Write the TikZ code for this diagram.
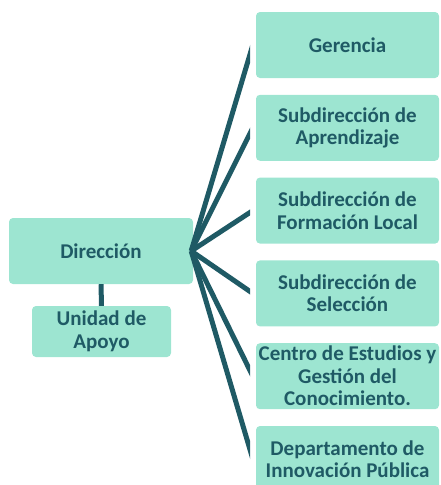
\documentclass[tikz,border=0pt]{standalone}
\usepackage{fontspec}
\setmainfont{Carlito}
\definecolor{boxfill}{HTML}{9DE5D1}
\definecolor{ink}{HTML}{1F5A65}
\begin{document}
\begin{tikzpicture}[x=1pt,y=-1pt,
  orgbox/.style={draw=none,fill=boxfill,rounded corners=4pt,inner sep=0pt,
    align=center,text=ink,font=\fontsize{21}{22.5}\selectfont\bfseries},
  rbox/.style={orgbox,minimum width=183pt,minimum height=66pt},
  conn/.style={draw=ink,line width=5pt}]
\useasboundingbox (0,0) rectangle (441,485);
\clip (0,0) rectangle (441,485);
\node[orgbox,minimum width=184pt,minimum height=66pt] (dir) at (101,251) {Dirección};
\node[orgbox,minimum width=139pt,minimum height=51pt] (uni) at (101.5,331.5) {Unidad de\\Apoyo};
\node[rbox] (g) at (347.5,45) {Gerencia};
\node[rbox] (sa) at (347.5,127.8) {Subdirección de\\Aprendizaje};
\node[rbox] (sf) at (347.5,210.6) {Subdirección de\\Formación Local};
\node[rbox] (ss) at (347.5,293.4) {Subdirección de\\Selección};
\node[rbox] (ce) at (347.5,376.2) {Centro de Estudios y\\Gestión del\\Conocimiento.};
\node[rbox] (dp) at (347.5,459) {Departamento de\\Innovación Pública};
\draw[conn] (dir.south) -- (uni.north);
\begin{scope}
\clip (150,0) rectangle (250,485);
\foreach \t in {g,sa,sf,ss,ce,dp}{
  \draw[conn] ([xshift=-2pt]dir.east) -- ([xshift=-3pt]\t.west);
}
\end{scope}
\end{tikzpicture}
\end{document}
